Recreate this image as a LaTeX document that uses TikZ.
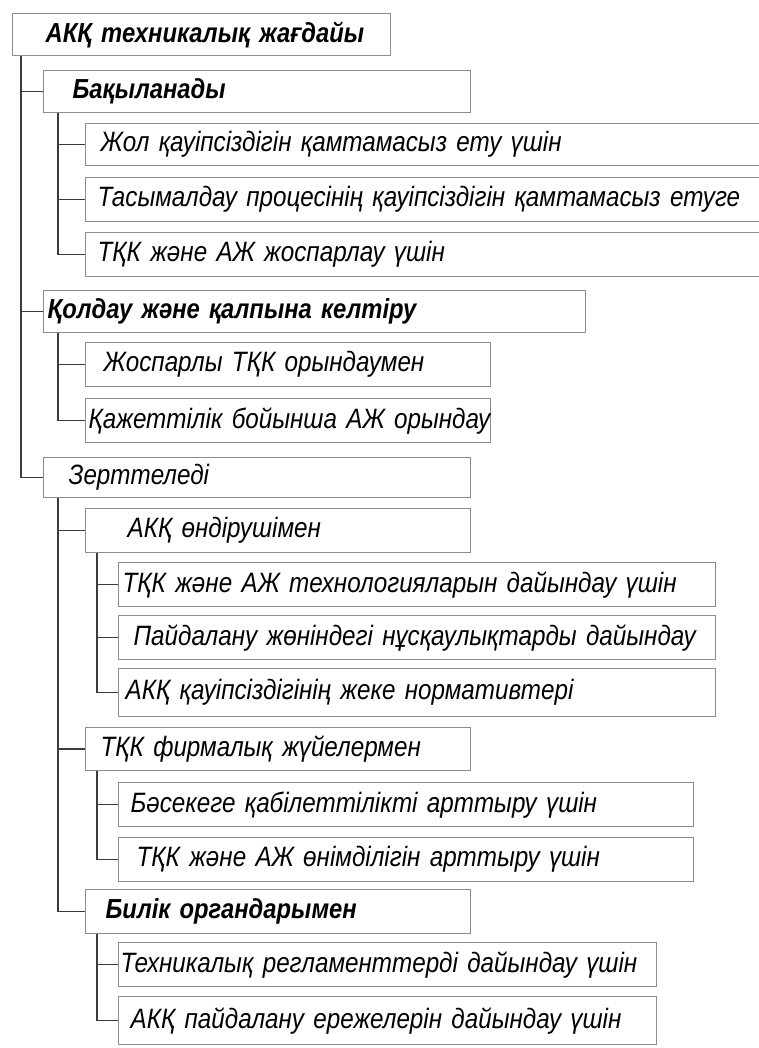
\documentclass[tikz,border=0pt]{standalone}
\usepackage{fontspec}
\setmainfont[FakeStretch=0.865,WordSpace=0.85]{Liberation Sans}
\begin{document}
\begin{tikzpicture}[x=1pt,y=-1pt,
  box/.style={draw={rgb,255:red,140;green,140;blue,140}, line width=1.3pt, anchor=north west,
    inner xsep=0pt, inner ysep=0pt, align=left,
    font=\fontsize{28}{32}\selectfont\itshape},
  bold/.style={font=\fontsize{27.5}{32}\selectfont\bfseries\itshape},
  conn/.style={draw={rgb,255:red,60;green,60;blue,60}, line width=1.4pt}]
\useasboundingbox (0,0) rectangle (758,1048);
\fill[white] (0,0) rectangle (758,1048);
% root
\node[box,bold,minimum width=378,minimum height=42,text width=378] (root) at (12,13) {\hspace*{33pt}\mbox{АКҚ техникалық жағдайы}};
\node[box,bold,minimum width=427,minimum height=42,text width=427] (bak) at (43,70) {\hspace*{29pt}\mbox{Бақыланады}};
\node[box,minimum width=690,minimum height=42,text width=690] (c1) at (85,123) {\hspace*{15pt}\mbox{Жол қауіпсіздігін қамтамасыз ету үшін}};
\node[box,minimum width=690,minimum height=44,text width=690] (c2) at (85,177) {\hspace*{12pt}\mbox{Тасымалдау процесінің қауіпсіздігін қамтамасыз етуге}};
\node[box,minimum width=690,minimum height=44,text width=690] (c3) at (85,232) {\hspace*{12pt}\mbox{ТҚК және АЖ жоспарлау үшін}};
\node[box,bold,minimum width=542,minimum height=42,text width=542] (kol) at (43,290) {\hspace*{4pt}\mbox{Қолдау және қалпына келтіру}};
\node[box,minimum width=405,minimum height=44,text width=405] (k1) at (85,342) {\hspace*{18pt}\mbox{Жоспарлы ТҚК орындаумен}};
\node[box,minimum width=405,minimum height=44,text width=405] (k2) at (85,398) {\hspace*{3pt}\mbox{Қажеттілік бойынша АЖ орындау}};
\node[box,minimum width=427,minimum height=40,text width=427] (zert) at (43,457) {\hspace*{25pt}\mbox{Зерттеледі}};
\node[box,minimum width=385,minimum height=44,text width=385] (z1) at (85,508) {\hspace*{42pt}\mbox{АКҚ өндірушімен}};
\node[box,minimum width=597,minimum height=44,text width=597] (z1a) at (118,562) {\hspace*{4pt}\mbox{ТҚК және АЖ технологияларын дайындау үшін}};
\node[box,minimum width=597,minimum height=44,text width=597] (z1b) at (118,615) {\hspace*{15pt}\mbox{Пайдалану жөніндегі нұсқаулықтарды дайындау}};
\node[box,minimum width=597,minimum height=48,text width=597] (z1c) at (118,668) {\hspace*{7pt}\mbox{АКҚ қауіпсіздігінің жеке нормативтері}};
\node[box,minimum width=385,minimum height=43,text width=385] (z2) at (85,727) {\hspace*{15pt}\mbox{ТҚК фирмалық жүйелермен}};
\node[box,minimum width=575,minimum height=44,text width=575] (z2a) at (118,782) {\hspace*{12pt}\mbox{Бәсекеге қабілеттілікті арттыру үшін}};
\node[box,minimum width=575,minimum height=44,text width=575] (z2b) at (118,837) {\hspace*{18pt}\mbox{ТҚК және АЖ өнімділігін арттыру үшін}};
\node[box,bold,minimum width=385,minimum height=44,text width=385] (z3) at (85,889) {\hspace*{20pt}\mbox{Билік органдарымен}};
\node[box,minimum width=538,minimum height=44,text width=538] (z3a) at (118,942) {\hspace*{2pt}\mbox{Техникалық регламенттерді дайындау үшін}};
\node[box,minimum width=538,minimum height=48,text width=538] (z3b) at (118,996) {\hspace*{12pt}\mbox{АКҚ пайдалану ережелерін дайындау үшін}};
% connectors
\foreach \t in {bak,kol,zert} \draw[conn] ([xshift=9pt]root.south west) |- (\t.west);
\foreach \t in {c1,c2,c3} \draw[conn] ([xshift=15pt]bak.south west) |- (\t.west);
\foreach \t in {k1,k2} \draw[conn] ([xshift=15pt]kol.south west) |- (\t.west);
\foreach \t in {z1,z2,z3} \draw[conn] ([xshift=15pt]zert.south west) |- (\t.west);
\foreach \t in {z1a,z1b,z1c} \draw[conn] ([xshift=12pt]z1.south west) |- (\t.west);
\foreach \t in {z2a,z2b} \draw[conn] ([xshift=12pt]z2.south west) |- (\t.west);
\foreach \t in {z3a,z3b} \draw[conn] ([xshift=12pt]z3.south west) |- (\t.west);
\end{tikzpicture}
\end{document}
